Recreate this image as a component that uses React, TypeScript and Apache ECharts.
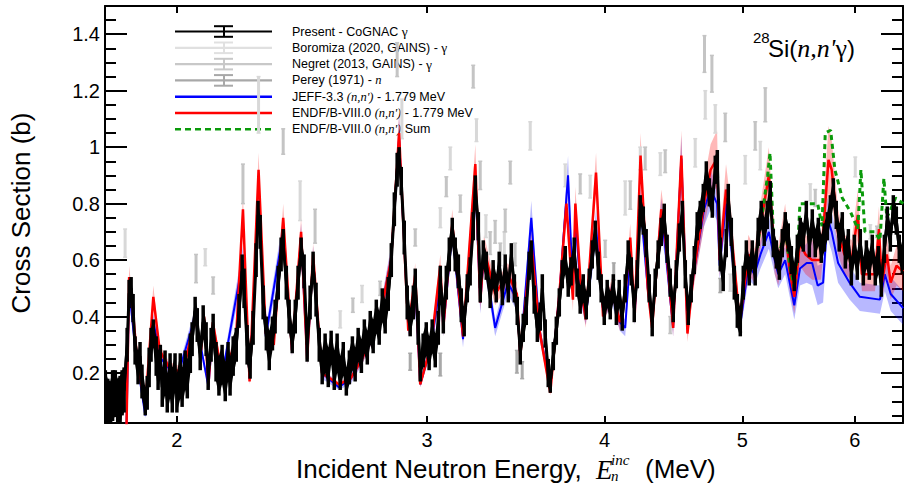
import React, { useEffect, useRef } from "react";
import * as echarts from "echarts";

// ---- axis ticks ----
const xTickE = [2, 3, 4, 5, 6];
const yMajorTicks = [0.2, 0.4, 0.6, 0.8, 1.0, 1.2, 1.4];
const yMinorTicks = [0.05, 0.1, 0.15, 0.25, 0.3, 0.35, 0.45, 0.5, 0.55, 0.65, 0.7, 0.75, 0.85, 0.9, 0.95, 1.05, 1.1, 1.15, 1.25, 1.3, 1.35, 1.45];

// ---- Present - CoGNAC gamma: [E (MeV), sigma (b), dsigma (b)] ----
const cognac = [
  [1.781, 0.12, 0.09], [1.788, 0.1, 0.08], [1.795, 0.09, 0.08], [1.802, 0.12, 0.09], [1.81, 0.13, 0.08],
  [1.817, 0.1, 0.08], [1.824, 0.1, 0.09], [1.83, 0.13, 0.08], [1.836, 0.14, 0.08],
  [1.845, 0.3, 0.06], [1.851, 0.48, 0.05], [1.857, 0.5, 0.04], [1.863, 0.43, 0.05], [1.869, 0.28, 0.05],
  [1.878, 0.22, 0.06], [1.884, 0.26, 0.05], [1.89, 0.17, 0.06], [1.9, 0.1, 0.05], [1.906, 0.13, 0.06],
  [1.912, 0.22, 0.07], [1.918, 0.3, 0.06], [1.925, 0.34, 0.05], [1.934, 0.26, 0.07], [1.94, 0.21, 0.07],
  [1.947, 0.24, 0.06], [1.953, 0.15, 0.07], [1.962, 0.2, 0.08], [1.969, 0.13, 0.07], [1.978, 0.19, 0.08],
  [1.985, 0.14, 0.08], [1.994, 0.2, 0.07], [2.0, 0.13, 0.07], [2.011, 0.19, 0.08], [2.017, 0.15, 0.07],
  [2.027, 0.21, 0.07], [2.034, 0.18, 0.07], [2.044, 0.27, 0.07], [2.05, 0.32, 0.06], [2.06, 0.42, 0.05],
  [2.067, 0.37, 0.06], [2.077, 0.27, 0.06], [2.087, 0.38, 0.06], [2.097, 0.32, 0.06], [2.104, 0.2, 0.06],
  [2.114, 0.3, 0.06], [2.121, 0.35, 0.06], [2.131, 0.24, 0.07], [2.141, 0.19, 0.07], [2.152, 0.23, 0.07],
  [2.163, 0.17, 0.07], [2.173, 0.24, 0.07], [2.18, 0.19, 0.07], [2.191, 0.26, 0.07], [2.202, 0.3, 0.06],
  [2.212, 0.42, 0.06], [2.223, 0.56, 0.06], [2.23, 0.5, 0.07], [2.241, 0.3, 0.07], [2.252, 0.24, 0.06],
  [2.263, 0.36, 0.06], [2.274, 0.6, 0.06], [2.281, 0.76, 0.05], [2.289, 0.7, 0.06], [2.3, 0.45, 0.06],
  [2.312, 0.34, 0.06], [2.323, 0.28, 0.07], [2.335, 0.34, 0.06], [2.345, 0.4, 0.06], [2.357, 0.52, 0.06],
  [2.368, 0.62, 0.06], [2.376, 0.66, 0.05], [2.388, 0.52, 0.06], [2.399, 0.4, 0.06], [2.411, 0.32, 0.05],
  [2.423, 0.4, 0.06], [2.434, 0.52, 0.06], [2.446, 0.63, 0.05], [2.458, 0.56, 0.06], [2.47, 0.3, 0.06],
  [2.482, 0.45, 0.06], [2.494, 0.58, 0.05], [2.506, 0.46, 0.06], [2.519, 0.3, 0.06], [2.531, 0.22, 0.06],
  [2.543, 0.27, 0.07], [2.556, 0.22, 0.07], [2.568, 0.29, 0.06], [2.581, 0.21, 0.07], [2.593, 0.27, 0.07],
  [2.606, 0.2, 0.06], [2.619, 0.25, 0.06], [2.632, 0.17, 0.05], [2.645, 0.22, 0.06], [2.658, 0.27, 0.06],
  [2.67, 0.23, 0.06], [2.683, 0.3, 0.06], [2.697, 0.26, 0.06], [2.71, 0.33, 0.06], [2.723, 0.29, 0.06],
  [2.736, 0.36, 0.06], [2.749, 0.33, 0.06], [2.763, 0.4, 0.06], [2.776, 0.36, 0.06], [2.79, 0.44, 0.06],
  [2.803, 0.4, 0.06], [2.817, 0.48, 0.06], [2.831, 0.6, 0.06], [2.845, 0.78, 0.06], [2.858, 0.92, 0.06],
  [2.867, 0.96, 0.04], [2.877, 0.88, 0.05], [2.891, 0.68, 0.06], [2.905, 0.45, 0.06], [2.919, 0.38, 0.05],
  [2.934, 0.45, 0.06], [2.943, 0.52, 0.05], [2.957, 0.36, 0.06], [2.967, 0.22, 0.05], [2.981, 0.28, 0.06],
  [2.996, 0.32, 0.06], [3.01, 0.27, 0.06], [3.025, 0.33, 0.06], [3.04, 0.28, 0.06], [3.055, 0.36, 0.06],
  [3.065, 0.53, 0.05], [3.08, 0.4, 0.06], [3.095, 0.52, 0.06], [3.11, 0.62, 0.06], [3.125, 0.7, 0.05],
  [3.14, 0.62, 0.06], [3.156, 0.56, 0.06], [3.171, 0.44, 0.06], [3.186, 0.38, 0.05], [3.202, 0.5, 0.05],
  [3.217, 0.56, 0.05], [3.233, 0.72, 0.05], [3.244, 0.86, 0.04], [3.26, 0.72, 0.05], [3.27, 0.5, 0.05],
  [3.286, 0.62, 0.05], [3.302, 0.58, 0.05], [3.323, 0.48, 0.05], [3.339, 0.55, 0.05], [3.356, 0.5, 0.05],
  [3.372, 0.58, 0.05], [3.389, 0.49, 0.05], [3.405, 0.57, 0.05], [3.422, 0.5, 0.05], [3.439, 0.62, 0.04],
  [3.456, 0.5, 0.05], [3.472, 0.42, 0.05], [3.489, 0.28, 0.05], [3.506, 0.36, 0.05], [3.523, 0.42, 0.05],
  [3.54, 0.58, 0.05], [3.552, 0.63, 0.04], [3.569, 0.46, 0.05], [3.587, 0.36, 0.05], [3.604, 0.4, 0.05],
  [3.616, 0.5, 0.05], [3.633, 0.34, 0.05], [3.651, 0.2, 0.05], [3.663, 0.17, 0.04], [3.681, 0.26, 0.05],
  [3.699, 0.35, 0.05], [3.717, 0.45, 0.05], [3.735, 0.55, 0.05], [3.753, 0.6, 0.05], [3.771, 0.52, 0.05],
  [3.789, 0.56, 0.05], [3.808, 0.63, 0.05], [3.826, 0.52, 0.05], [3.845, 0.46, 0.05], [3.864, 0.5, 0.05],
  [3.883, 0.44, 0.05], [3.902, 0.52, 0.05], [3.921, 0.62, 0.05], [3.94, 0.69, 0.05], [3.959, 0.58, 0.05],
  [3.978, 0.5, 0.05], [3.998, 0.42, 0.05], [4.017, 0.48, 0.05], [4.037, 0.44, 0.05], [4.057, 0.5, 0.05],
  [4.077, 0.42, 0.05], [4.096, 0.48, 0.05], [4.116, 0.4, 0.05], [4.136, 0.5, 0.05], [4.156, 0.62, 0.05],
  [4.177, 0.56, 0.05], [4.197, 0.43, 0.05], [4.218, 0.55, 0.05], [4.238, 0.78, 0.05], [4.259, 0.74, 0.05],
  [4.279, 0.66, 0.05], [4.3, 0.5, 0.05], [4.321, 0.38, 0.05], [4.342, 0.52, 0.05], [4.363, 0.62, 0.05],
  [4.385, 0.7, 0.05], [4.406, 0.75, 0.05], [4.427, 0.64, 0.05], [4.449, 0.52, 0.05], [4.471, 0.43, 0.05],
  [4.493, 0.55, 0.05], [4.515, 0.68, 0.05], [4.537, 0.76, 0.05], [4.559, 0.55, 0.05], [4.581, 0.42, 0.05],
  [4.603, 0.5, 0.05], [4.626, 0.6, 0.05], [4.648, 0.72, 0.05], [4.671, 0.76, 0.05], [4.694, 0.82, 0.05],
  [4.717, 0.9, 0.05], [4.74, 0.84, 0.05], [4.763, 0.8, 0.05], [4.786, 0.92, 0.05], [4.802, 0.94, 0.05],
  [4.825, 0.62, 0.06], [4.848, 0.54, 0.05], [4.872, 0.66, 0.05], [4.888, 0.82, 0.05], [4.912, 0.7, 0.05],
  [4.936, 0.52, 0.06], [4.96, 0.42, 0.06], [4.984, 0.38, 0.05], [5.008, 0.52, 0.06], [5.033, 0.62, 0.05],
  [5.057, 0.56, 0.05], [5.082, 0.62, 0.05], [5.106, 0.56, 0.05], [5.131, 0.7, 0.05], [5.156, 0.76, 0.05],
  [5.181, 0.7, 0.05], [5.207, 0.76, 0.05], [5.232, 0.83, 0.05], [5.258, 0.66, 0.05], [5.284, 0.62, 0.05],
  [5.31, 0.58, 0.05], [5.335, 0.66, 0.05], [5.361, 0.72, 0.05], [5.387, 0.68, 0.05], [5.414, 0.6, 0.05],
  [5.44, 0.54, 0.05], [5.467, 0.64, 0.05], [5.493, 0.7, 0.05], [5.52, 0.68, 0.05], [5.547, 0.76, 0.05],
  [5.574, 0.66, 0.05], [5.601, 0.73, 0.05], [5.628, 0.66, 0.05], [5.656, 0.7, 0.05], [5.683, 0.64, 0.05],
  [5.711, 0.68, 0.05], [5.739, 0.72, 0.05], [5.767, 0.78, 0.05], [5.795, 0.84, 0.05], [5.823, 0.76, 0.05],
  [5.851, 0.68, 0.05], [5.88, 0.72, 0.05], [5.909, 0.62, 0.05], [5.938, 0.66, 0.05], [5.967, 0.56, 0.05],
  [5.996, 0.64, 0.05], [6.025, 0.58, 0.05], [6.054, 0.66, 0.05], [6.084, 0.56, 0.05], [6.114, 0.62, 0.05],
  [6.143, 0.58, 0.05], [6.173, 0.64, 0.05], [6.203, 0.56, 0.05], [6.234, 0.6, 0.05], [6.264, 0.52, 0.05],
  [6.295, 0.64, 0.05], [6.325, 0.74, 0.05], [6.356, 0.68, 0.05], [6.387, 0.78, 0.05], [6.418, 0.74, 0.05],
  [6.449, 0.64, 0.05], [6.48, 0.6, 0.05],
];

// ---- other measurements: [E, sigma, dsigma] ----
const boromiza = [
  [1.839, 0.66, 0.05], [2.094, 0.61, 0.03], [2.283, 1.15, 0.1], [2.442, 0.81, 0.07], [2.606, 0.39, 0.03],
  [2.7, 0.48, 0.03], [2.88, 1.1, 0.07], [3.065, 0.75, 0.035], [3.115, 0.96, 0.04], [3.25, 1.06, 0.04],
  [3.3, 0.72, 0.04], [3.4, 0.66, 0.04], [3.546, 1.04, 0.05], [3.753, 0.9, 0.04], [3.908, 0.86, 0.04],
  [4.136, 0.82, 0.06], [4.238, 0.96, 0.04], [4.378, 0.94, 0.04], [4.633, 0.98, 0.05], [4.709, 1.15, 0.05],
  [4.786, 1.1, 0.05], [4.904, 0.52, 0.03], [5.024, 0.92, 0.05], [5.148, 0.97, 0.05], [5.583, 0.84, 0.03],
  [6.005, 0.93, 0.035], [6.153, 0.7, 0.025],
];
const negret = [
  [2.063, 0.57, 0.05], [2.121, 0.51, 0.03], [2.226, 0.87, 0.07], [2.376, 1.02, 0.045], [2.502, 0.72, 0.06],
  [2.66, 0.44, 0.025], [2.78, 0.5, 0.025], [2.858, 1.31, 0.06], [2.943, 0.68, 0.03], [3.095, 0.86, 0.035],
  [3.166, 0.8, 0.03], [3.233, 1.25, 0.04], [3.27, 0.9, 0.05], [3.323, 0.66, 0.04], [3.35, 0.7, 0.04],
  [3.378, 0.62, 0.04], [3.405, 0.74, 0.04], [3.433, 0.91, 0.04], [3.46, 0.62, 0.04], [3.845, 0.87, 0.035],
  [4.004, 0.64, 0.03], [4.17, 0.83, 0.05], [4.272, 0.96, 0.04], [4.413, 0.95, 0.04], [4.449, 0.37, 0.03],
  [4.703, 1.33, 0.065], [4.76, 1.26, 0.065], [4.864, 1.07, 0.05], [4.984, 0.37, 0.025], [5.106, 1.04, 0.05],
  [5.19, 1.15, 0.06], [5.628, 0.82, 0.03], [6.22, 0.7, 0.02],
];
const perey = [
  [2.919, 0.24, 0.03], [3.065, 0.23, 0.04], [3.47, 0.24, 0.04], [3.5, 0.21, 0.03], [3.79, 0.56, 0.03],
  [4.06, 0.56, 0.03], [4.825, 0.51, 0.025],
];

// ---- evaluations: [E, sigma, uncertainty] ----
const jeff = [
  [1.843, 0.0, 0.0], [1.851, 0.5, 0.04], [1.87, 0.28, 0.02], [1.9, 0.05, 0.01], [1.925, 0.38, 0.03],
  [1.95, 0.25, 0.02], [2.0, 0.18, 0.02], [2.06, 0.4, 0.03], [2.105, 0.15, 0.01], [2.12, 0.36, 0.03],
  [2.15, 0.18, 0.02], [2.226, 0.6, 0.05], [2.25, 0.18, 0.02], [2.283, 0.8, 0.06], [2.31, 0.33, 0.03],
  [2.376, 0.7, 0.05], [2.41, 0.28, 0.02], [2.446, 0.68, 0.05], [2.47, 0.25, 0.02], [2.494, 0.6, 0.05],
  [2.53, 0.2, 0.02], [2.6, 0.15, 0.01], [2.65, 0.18, 0.02], [2.7, 0.25, 0.02], [2.78, 0.4, 0.03],
  [2.83, 0.6, 0.05], [2.867, 1.03, 0.08], [2.91, 0.36, 0.03], [2.943, 0.5, 0.04], [2.967, 0.16, 0.01],
  [3.02, 0.3, 0.03], [3.065, 0.52, 0.04], [3.08, 0.36, 0.03], [3.125, 0.7, 0.05], [3.18, 0.32, 0.03],
  [3.244, 0.88, 0.07], [3.27, 0.45, 0.04], [3.29, 0.62, 0.05], [3.35, 0.36, 0.03], [3.42, 0.52, 0.04],
  [3.47, 0.46, 0.04], [3.489, 0.26, 0.02], [3.552, 0.75, 0.06], [3.6, 0.35, 0.03], [3.663, 0.15, 0.01],
  [3.72, 0.5, 0.04], [3.77, 0.9, 0.07], [3.8, 0.5, 0.04], [3.815, 0.75, 0.06], [3.85, 0.48, 0.04],
  [3.88, 0.4, 0.03], [3.945, 0.72, 0.06], [3.99, 0.42, 0.03], [4.05, 0.48, 0.04], [4.1, 0.38, 0.03],
  [4.136, 0.36, 0.03], [4.17, 0.62, 0.05], [4.2, 0.4, 0.03], [4.24, 0.8, 0.06], [4.29, 0.5, 0.04],
  [4.32, 0.38, 0.03], [4.385, 0.76, 0.06], [4.41, 0.66, 0.05], [4.47, 0.36, 0.03], [4.53, 0.96, 0.08],
  [4.575, 0.36, 0.03], [4.62, 0.55, 0.04], [4.7, 0.78, 0.06], [4.75, 0.85, 0.07], [4.8, 0.8, 0.06],
  [4.82, 0.58, 0.05], [4.87, 0.8, 0.06], [4.9, 0.7, 0.06], [4.98, 0.36, 0.03], [5.05, 0.58, 0.05],
  [5.1, 0.55, 0.04], [5.15, 0.62, 0.05], [5.22, 0.7, 0.06], [5.27, 0.6, 0.05], [5.3, 0.55, 0.05],
  [5.36, 0.6, 0.05], [5.4, 0.52, 0.05], [5.44, 0.44, 0.05], [5.49, 0.57, 0.06], [5.55, 0.59, 0.07],
  [5.6, 0.59, 0.08], [5.65, 0.51, 0.07], [5.7, 0.52, 0.07], [5.74, 0.75, 0.07], [5.78, 0.7, 0.07],
  [5.84, 0.59, 0.07], [5.95, 0.52, 0.06], [6.05, 0.47, 0.05], [6.25, 0.46, 0.05], [6.3, 0.55, 0.06],
  [6.36, 0.48, 0.06], [6.49, 0.43, 0.06],
];
const endf = [
  [1.843, 0.0, 0.0], [1.851, 0.54, 0.04], [1.86, 0.45, 0.03], [1.875, 0.25, 0.02], [1.9, 0.08, 0.01],
  [1.925, 0.47, 0.04], [1.945, 0.28, 0.02], [1.975, 0.22, 0.02], [2.02, 0.2, 0.02], [2.06, 0.4, 0.03],
  [2.08, 0.28, 0.02], [2.09, 0.4, 0.03], [2.105, 0.16, 0.01], [2.12, 0.38, 0.03], [2.15, 0.2, 0.02],
  [2.2, 0.3, 0.02], [2.226, 0.78, 0.05], [2.25, 0.17, 0.01], [2.283, 0.92, 0.06], [2.31, 0.34, 0.02],
  [2.34, 0.3, 0.02], [2.376, 0.75, 0.05], [2.41, 0.28, 0.02], [2.446, 0.7, 0.05], [2.47, 0.25, 0.02],
  [2.494, 0.62, 0.04], [2.53, 0.2, 0.01], [2.6, 0.16, 0.01], [2.65, 0.18, 0.01], [2.7, 0.25, 0.02],
  [2.78, 0.4, 0.03], [2.83, 0.6, 0.04], [2.867, 1.05, 0.07], [2.91, 0.35, 0.02], [2.943, 0.55, 0.04],
  [2.967, 0.16, 0.01], [3.02, 0.3, 0.02], [3.065, 0.58, 0.04], [3.08, 0.36, 0.03], [3.125, 0.73, 0.05],
  [3.18, 0.33, 0.02], [3.244, 0.94, 0.07], [3.27, 0.45, 0.03], [3.29, 0.64, 0.05], [3.35, 0.48, 0.04],
  [3.42, 0.55, 0.04], [3.47, 0.48, 0.04], [3.489, 0.26, 0.02], [3.552, 0.66, 0.05], [3.6, 0.35, 0.03],
  [3.663, 0.13, 0.01], [3.72, 0.5, 0.04], [3.76, 0.8, 0.06], [3.8, 0.46, 0.04], [3.815, 0.8, 0.06],
  [3.85, 0.5, 0.04], [3.88, 0.39, 0.03], [3.945, 0.91, 0.07], [3.99, 0.4, 0.03], [4.05, 0.5, 0.04],
  [4.1, 0.38, 0.03], [4.136, 0.48, 0.04], [4.17, 0.68, 0.05], [4.2, 0.4, 0.03], [4.24, 0.97, 0.08],
  [4.29, 0.5, 0.04], [4.32, 0.36, 0.03], [4.385, 0.78, 0.07], [4.41, 0.7, 0.06], [4.47, 0.36, 0.03],
  [4.53, 0.97, 0.09], [4.575, 0.34, 0.03], [4.62, 0.55, 0.05], [4.7, 0.8, 0.08], [4.75, 0.92, 0.09],
  [4.8, 0.96, 0.1], [4.82, 0.6, 0.06], [4.87, 0.85, 0.09], [4.9, 0.75, 0.08], [4.98, 0.38, 0.04],
  [5.05, 0.62, 0.07], [5.1, 0.58, 0.06], [5.15, 0.72, 0.08], [5.22, 0.9, 0.1], [5.27, 0.62, 0.07],
  [5.3, 0.58, 0.07], [5.36, 0.72, 0.08], [5.4, 0.56, 0.07], [5.44, 0.47, 0.06], [5.49, 0.66, 0.08],
  [5.54, 0.62, 0.07], [5.6, 0.6, 0.07], [5.68, 0.6, 0.07], [5.72, 0.8, 0.1], [5.75, 0.955, 0.12],
  [5.78, 0.92, 0.11], [5.84, 0.7, 0.08], [5.9, 0.62, 0.07], [5.97, 0.6, 0.07], [6.03, 0.76, 0.09],
  [6.07, 0.55, 0.06], [6.2, 0.55, 0.06], [6.24, 0.71, 0.08], [6.27, 0.52, 0.06], [6.32, 0.62, 0.07],
  [6.36, 0.52, 0.06], [6.42, 0.58, 0.07], [6.49, 0.56, 0.07],
];
// ENDF/B-VIII.0 (n,n') sum: [E, sigma]
const endfSum = [
  [5.1, 0.58], [5.15, 0.72], [5.21, 0.9], [5.23, 0.98], [5.26, 0.68], [5.3, 0.6], [5.36, 0.72], [5.4, 0.58],
  [5.44, 0.5], [5.47, 0.64], [5.49, 0.8], [5.65, 0.8], [5.69, 0.72], [5.72, 1.05], [5.77, 1.06], [5.81, 0.92],
  [5.88, 0.82], [5.96, 0.77], [6.03, 0.71], [6.06, 0.92], [6.1, 0.7], [6.2, 0.7], [6.25, 0.67], [6.29, 0.89],
  [6.32, 0.75], [6.36, 0.78], [6.41, 0.82], [6.49, 0.8],
];

const SANS = "'Liberation Sans', Arial, Helvetica, sans-serif";
const SERIF = "'Liberation Serif', 'Times New Roman', serif";

function errBars(name: string, data: number[][], color: string, width: number, cap: number, z: number) {
  return {
    type: "custom",
    name,
    z,
    clip: true,
    silent: true,
    data: data.map((d) => [Math.log(d[0]), d[1], d[2]]),
    encode: { x: 0, y: 1 },
    renderItem: (params: any, api: any) => {
      const x = api.value(0);
      const y = api.value(1);
      const e = api.value(2);
      const p1 = api.coord([x, y + e]);
      const p2 = api.coord([x, y - e]);
      const children: any[] = [
        { type: "line", shape: { x1: p1[0], y1: p1[1], x2: p2[0], y2: p2[1] }, style: { stroke: color, lineWidth: width } },
      ];
      if (cap > 0) {
        children.push({ type: "line", shape: { x1: p1[0] - cap, y1: p1[1], x2: p1[0] + cap, y2: p1[1] }, style: { stroke: color, lineWidth: 1.5 } });
        children.push({ type: "line", shape: { x1: p2[0] - cap, y1: p2[1], x2: p2[0] + cap, y2: p2[1] }, style: { stroke: color, lineWidth: 1.5 } });
      }
      return { type: "group", children };
    },
  };
}

function band(data: number[][], fill: string, z: number) {
  return {
    type: "custom",
    z,
    clip: true,
    silent: true,
    data: [[Math.log(data[0][0]), data[0][1]]],
    encode: { x: 0, y: 1 },
    renderItem: (params: any, api: any) => {
      const up = data.map((d) => api.coord([Math.log(d[0]), d[1] + d[2]]));
      const lo = data
        .slice()
        .reverse()
        .map((d) => api.coord([Math.log(d[0]), Math.max(d[1] - d[2], 0)]));
      return { type: "polygon", shape: { points: up.concat(lo) }, style: { fill } };
    },
  };
}

function lineSeries(name: string, data: number[][], color: string, width: number, z: number, dash?: any) {
  return {
    type: "line",
    name,
    z,
    clip: true,
    silent: true,
    symbol: "none",
    showSymbol: false,
    data: data.map((d) => [Math.log(d[0]), d[1]]),
    lineStyle: { color, width, type: dash || "solid" },
  };
}

function legendRow(i: number, kind: string, color: string, rich: string): any[] {
  const y = 31.5 + 16.3 * i;
  const els: any[] = [];
  if (kind === "err") {
    els.push({ type: "line", shape: { x1: 175, y1: y, x2: 272, y2: y }, style: { stroke: color, lineWidth: 2.2 } });
    els.push({ type: "line", shape: { x1: 224, y1: y - 5.3, x2: 224, y2: y + 5.3 }, style: { stroke: color, lineWidth: 2 } });
    els.push({ type: "line", shape: { x1: 214, y1: y - 5.3, x2: 233, y2: y - 5.3 }, style: { stroke: color, lineWidth: 2 } });
    els.push({ type: "line", shape: { x1: 214, y1: y + 5.3, x2: 233, y2: y + 5.3 }, style: { stroke: color, lineWidth: 2 } });
  } else if (kind === "line") {
    els.push({ type: "line", shape: { x1: 175, y1: y, x2: 272, y2: y }, style: { stroke: color, lineWidth: 2.5 } });
  } else {
    els.push({ type: "line", shape: { x1: 175, y1: y, x2: 272, y2: y }, style: { stroke: color, lineWidth: 2.5, lineDash: [6, 4] } });
  }
  els.push({
    type: "text",
    x: 292,
    y,
    style: {
      text: rich,
      align: "left",
      verticalAlign: "middle",
      rich: {
        a: { fontFamily: SANS, fontSize: 12.5, fill: "#000" },
        g: { fontFamily: SERIF, fontSize: 13.5, fill: "#000" },
        i: { fontFamily: SERIF, fontSize: 12.5, fontStyle: "italic", fill: "#000" },
      },
    },
  });
  return els;
}

export default function App() {
  const ref = useRef<HTMLDivElement>(null);
  useEffect(() => {
    if (!ref.current) return;
    const chart = echarts.init(ref.current, null, { renderer: "svg" });
    const xMin = Math.log(1.78);
    const xMax = Math.log(6.488);
    const xTicks = xTickE.map((e) => Math.log(e));
    const axisLine = { show: true, lineStyle: { color: "#000", width: 2 } };

    const graphic: any[] = [
      ...legendRow(0, "err", "#000000", "{a|Present - CoGNAC }{g|γ}"),
      ...legendRow(1, "err", "#e0e0e0", "{a|Boromiza (2020, GAINS) - }{g|γ}"),
      ...legendRow(2, "err", "#c8c8c8", "{a|Negret (2013, GAINS) - }{g|γ}"),
      ...legendRow(3, "err", "#a8a8a8", "{a|Perey (1971) - }{i|n}"),
      ...legendRow(4, "line", "#0000ff", "{a|JEFF-3.3 }{i|(n,n')}{a| - 1.779 MeV}"),
      ...legendRow(5, "line", "#ff0000", "{a|ENDF/B-VIII.0 }{i|(n,n')}{a| - 1.779 MeV}"),
      ...legendRow(6, "dash", "#0a9a0a", "{a|ENDF/B-VIII.0 }{i|(n,n')}{a| Sum}"),
      // reaction label
      { type: "text", x: 753, y: 37, style: { text: "28", fontFamily: SANS, fontSize: 15, fill: "#000", align: "left", verticalAlign: "middle" } },
      {
        type: "text",
        x: 768,
        y: 48,
        style: {
          text: "{a|Si(}{i|n,n'}{g|γ}{a|)}",
          align: "left",
          verticalAlign: "middle",
          rich: {
            a: { fontFamily: SANS, fontSize: 24, fill: "#000" },
            i: { fontFamily: SERIF, fontSize: 26, fontStyle: "italic", fill: "#000" },
            g: { fontFamily: SERIF, fontSize: 26, fill: "#000" },
          },
        },
      },
      // y axis title
      {
        type: "text",
        x: 21,
        y: 213,
        rotation: Math.PI / 2,
        style: { text: "Cross Section (b)", fontFamily: SANS, fontSize: 26, fill: "#000", align: "center", verticalAlign: "middle" },
      },
      // x axis title
      { type: "text", x: 296, y: 469, style: { text: "Incident Neutron Energy,", fontFamily: SANS, fontSize: 26, fill: "#000", align: "left", verticalAlign: "middle" } },
      { type: "text", x: 596, y: 470, style: { text: "E", fontFamily: SERIF, fontSize: 27, fontStyle: "italic", fill: "#000", align: "left", verticalAlign: "middle" } },
      { type: "text", x: 611, y: 460, style: { text: "inc", fontFamily: SERIF, fontSize: 15, fontStyle: "italic", fill: "#000", align: "left", verticalAlign: "middle" } },
      { type: "text", x: 611, y: 476, style: { text: "n", fontFamily: SERIF, fontSize: 15, fontStyle: "italic", fill: "#000", align: "left", verticalAlign: "middle" } },
      { type: "text", x: 645, y: 469, style: { text: "(MeV)", fontFamily: SANS, fontSize: 26, fill: "#000", align: "left", verticalAlign: "middle" } },
    ];

    const option: any = {
      animation: false,
      backgroundColor: "#ffffff",
      textStyle: { fontFamily: SANS },
      grid: { left: 105, right: 1, top: 6, bottom: 61, containLabel: false },
      xAxis: [
        {
          type: "value",
          position: "bottom",
          min: xMin,
          max: xMax,
          axisLine,
          splitLine: { show: false },
          axisTick: { show: true, inside: true, length: 7, customValues: xTicks, lineStyle: { color: "#000", width: 2 } },
          axisLabel: {
            show: true,
            customValues: xTicks,
            margin: 7,
            fontSize: 20,
            color: "#000",
            fontFamily: SANS,
            formatter: (v: number) => String(Math.round(Math.exp(v))),
          },
        },
        {
          type: "value",
          position: "top",
          min: xMin,
          max: xMax,
          axisLine,
          splitLine: { show: false },
          axisTick: { show: true, inside: true, length: 7, customValues: xTicks, lineStyle: { color: "#000", width: 2 } },
          axisLabel: { show: false },
        },
      ],
      yAxis: [
        {
          type: "value",
          position: "left",
          min: 0.023,
          max: 1.5,
          axisLine,
          splitLine: { show: false },
          axisTick: { show: true, inside: true, length: 22, customValues: yMajorTicks, lineStyle: { color: "#000", width: 2 } },
          axisLabel: {
            show: true,
            customValues: yMajorTicks,
            margin: 5,
            fontSize: 20,
            color: "#000",
            fontFamily: SANS,
            formatter: (v: number) => String(Math.round(v * 10) / 10),
          },
        },
        {
          type: "value",
          position: "left",
          min: 0.023,
          max: 1.5,
          axisLine: { show: false },
          splitLine: { show: false },
          axisTick: { show: true, inside: true, length: 11, customValues: yMinorTicks, lineStyle: { color: "#000", width: 2 } },
          axisLabel: { show: false },
        },
        {
          type: "value",
          position: "right",
          min: 0.023,
          max: 1.5,
          axisLine,
          splitLine: { show: false },
          axisTick: { show: true, inside: true, length: 22, customValues: yMajorTicks, lineStyle: { color: "#000", width: 2 } },
          axisLabel: { show: false },
        },
        {
          type: "value",
          position: "right",
          min: 0.023,
          max: 1.5,
          axisLine: { show: false },
          splitLine: { show: false },
          axisTick: { show: true, inside: true, length: 11, customValues: yMinorTicks, lineStyle: { color: "#000", width: 2 } },
          axisLabel: { show: false },
        },
      ],
      series: [
        band(jeff, "rgba(0,0,255,0.28)", 1),
        band(endf, "rgba(255,0,0,0.28)", 1),
        errBars("Boromiza (2020, GAINS)", boromiza, "#d8d8d8", 3, 2, 2),
        errBars("Negret (2013, GAINS)", negret, "#c4c4c4", 3, 2, 2),
        errBars("Perey (1971)", perey, "#a8a8a8", 3, 2, 2),
        lineSeries("JEFF-3.3", jeff, "#0000ff", 2, 3),
        lineSeries("ENDF/B-VIII.0", endf, "#ff0000", 2.5, 4),
        lineSeries("ENDF/B-VIII.0 Sum", endfSum, "#0a9a0a", 3, 5, [5, 4]),
        band(cognac, "#000000", 6),
        errBars("Present - CoGNAC", cognac, "#000000", 3.5, 0, 6),
        lineSeries("Present - CoGNAC line", cognac, "#000000", 3, 7),
      ],
      graphic,
    };
    chart.setOption(option);
    return () => chart.dispose();
  }, []);
  return (
    <div
      ref={ref}
      style={{ position: "fixed", left: 0, top: 0, width: 904, height: 484, background: "#fff" }}
    />
  );
}
